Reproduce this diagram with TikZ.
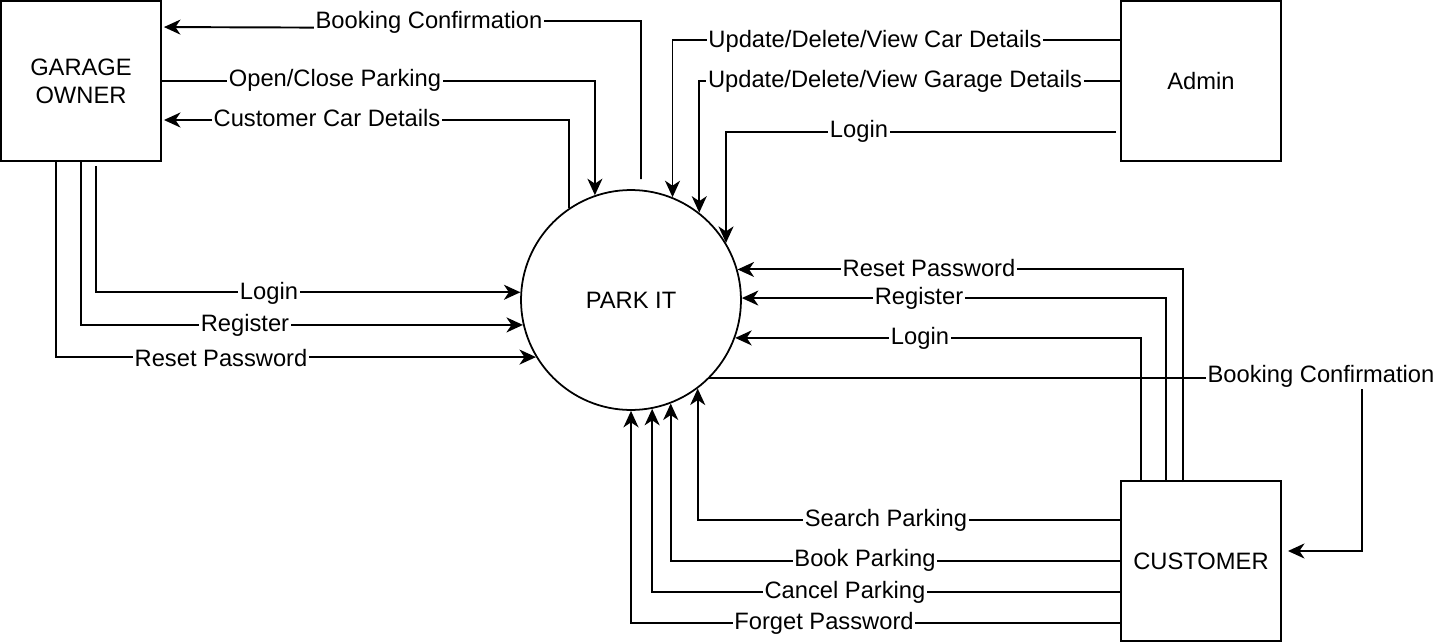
\documentclass[tikz,border=0pt]{standalone}
\usepackage{fontspec}
\setmainfont{Liberation Sans}
\usetikzlibrary{arrows.meta, calc}

\begin{document}
\begin{tikzpicture}[
    x=0.02cm, y=-0.02cm,
    entity/.style={rectangle, draw=black, line width=1.1pt, minimum size=3.2cm, align=center, font=\fontsize{13.5}{16}\selectfont},
    process/.style={circle, draw=black, line width=1pt, minimum size=4.4cm, font=\fontsize{13.5}{16}\selectfont},
    flow/.style={-{Stealth[length=0.33cm, width=0.3cm, inset=0.1cm]}, line width=1.1pt},
    lbl/.style={fill=white, inner sep=1pt, font=\fontsize{13.5}{16}\selectfont}
]
    \useasboundingbox (0,0) rectangle (1438,642);

    % Entities and the process
    \node[entity] (owner) at (81,81) {GARAGE\\OWNER};
    \node[entity] (admin) at (1201,81) {Admin};
    \node[entity] (cust) at (1201,561) {CUSTOMER};
    \node[process] (park) at (631,300) {PARK IT};

    % Garage owner flows
    \coordinate (bcsrc) at ($(park.north)+(10,-10)$);
    \draw[flow] (bcsrc) -- (641,21) -- (429,21) -- (429,28) -- ($(owner.north east)+(2,27)$)
        node[lbl] at (429,22) {Booking Confirmation};
    \draw[flow] (owner.east) -| (park.109.66) node[lbl] at (335,80) {Open/Close Parking};
    \draw[flow] (park.124.94) |- ($(owner.east)+(2,39)$) node[lbl] at (327,118) {Customer Car Details};
    \draw[flow] ($(owner.south)+(15,4)$) |- (park.176.35) node[lbl] at (269,293) {Login};
    \draw[flow] (owner.south) |- (park.193.14) node[lbl] at (245,325) {Register};
    \draw[flow] ($(owner.south)+(-25,0)$) |- (park.211.82) node[lbl] at (221,358) {Reset Password};

    % Admin flows
    \draw[flow] ($(admin.north west)+(0,40)$) -| (park.68.68) node[lbl] at (875,41) {Update/Delete/View Car Details};
    \draw[flow] (admin.west) -| (park.52.47) node[lbl] at (895,81) {Update/Delete/View Garage Details};
    \draw[flow] ($(admin.south west)+(-4,-30)$) -| (park.31.29) node[lbl] at (859,131) {Login};

    % Customer flows
    \draw[flow] ($(cust.north)+(-18,2)$) |- (park.16.37) node[lbl] at (929,268) {Reset Password};
    \draw[flow] ($(cust.north)+(-35,0)$) |- (park.1.04) node[lbl] at (919,298) {Register};
    \draw[flow] ($(cust.north)+(-60,0)$) |- (park.-20.77) node[lbl] at (920,338) {Login};
    \draw[flow] (park.-45.9) -| ($(cust.east)+(80,-10)$) -- ($(cust.east)+(6,-10)$)
        node[lbl] at (1321,376) {Booking Confirmation};
    \draw[flow] ($(cust.west)+(0,-41)$) -| (park.-53.13) node[lbl] at (886,520) {Search Parking};
    \draw[flow] (cust.west) -| (park.-69.79) node[lbl] at (865,560) {Book Parking};
    \draw[flow] ($(cust.west)+(0,31)$) -| (park.-79.52) node[lbl] at (845,592) {Cancel Parking};
    \draw[flow] ($(cust.west)+(0,62)$) -| (park.south) node[lbl] at (824,623) {Forget Password};
\end{tikzpicture}
\end{document}
